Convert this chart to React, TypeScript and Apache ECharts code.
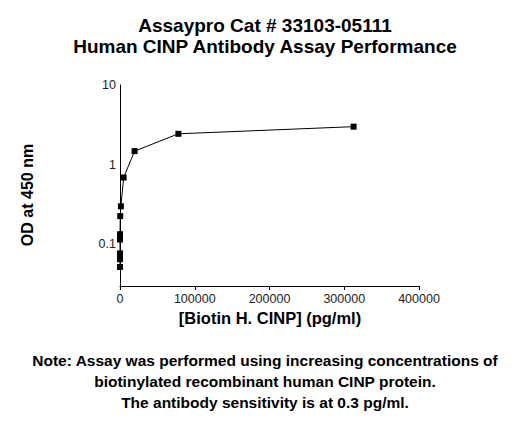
import React, { useEffect, useRef } from "react";
import * as echarts from "echarts";

// Biotin H. CINP standard curve (pg/ml vs OD at 450 nm)
const concentrations = [312500, 78125, 19531, 4883, 1221, 305, 76, 19, 4.8, 1.2, 0.3, 0];
const odValues = [3.0, 2.44, 1.48, 0.69, 0.3, 0.226, 0.134, 0.115, 0.077, 0.07, 0.065, 0.052];

const titleLines = ["Assaypro Cat # 33103-05111", "Human CINP Antibody Assay Performance"];
const noteLines = [
  "Note: Assay was performed using increasing concentrations of",
  "biotinylated recombinant human CINP protein.",
  "The antibody sensitivity is at 0.3 pg/ml.",
];
const xTitle = "[Biotin H. CINP] (pg/ml)";
const yTitle = "OD at 450 nm";

const FONT = "'Liberation Sans', Arial, sans-serif";

export default function App() {
  const ref = useRef<HTMLDivElement>(null);

  useEffect(() => {
    if (!ref.current) return;
    const chart = echarts.init(ref.current, undefined, { renderer: "svg" });
    const points = concentrations.map((c, i) => [c, odValues[i]]);

    chart.setOption({
      animation: false,
      backgroundColor: "#fff",
      textStyle: { fontFamily: FONT },
      grid: { left: 120, right: 111, top: 85, bottom: 139, containLabel: false },
      xAxis: {
        type: "value",
        min: 0,
        max: 400000,
        interval: 100000,
        splitLine: { show: false },
        axisLine: { show: true, onZero: false, lineStyle: { color: "#000", width: 1 } },
        axisTick: { show: true, length: 4, lineStyle: { color: "#000" } },
        axisLabel: {
          color: "#222",
          fontSize: 12.5,
          margin: 6,
          fontFamily: FONT,
          formatter: (v: number) => String(v),
        },
      },
      yAxis: {
        type: "log",
        logBase: 10,
        min: 0.03,
        max: 10,
        splitLine: { show: false },
        minorTick: { show: false },
        axisLine: { show: true, lineStyle: { color: "#000", width: 1 } },
        axisTick: { show: false },
        axisLabel: {
          color: "#222",
          fontSize: 12.5,
          margin: 4,
          fontFamily: FONT,
          showMinLabel: false,
          formatter: (v: number) => {
            const l = Math.log10(v);
            return Math.abs(l - Math.round(l)) < 1e-6 ? String(Number(v.toPrecision(3))) : "";
          },
        },
      },
      series: [
        {
          type: "line",
          data: points,
          symbol: "rect",
          symbolSize: 6,
          itemStyle: { color: "#000" },
          lineStyle: { color: "#000", width: 1 },
        },
      ],
      graphic: [
        ...titleLines.map((t, i) => ({
          type: "text",
          x: 265,
          y: 25 + i * 21,
          style: {
            text: t,
            fill: "#000",
            font: `bold 19px ${FONT}`,
            textAlign: "center",
            textVerticalAlign: "middle",
          },
        })),
        {
          type: "text",
          x: 270,
          y: 318,
          style: {
            text: xTitle,
            fill: "#000",
            font: `bold 16.5px ${FONT}`,
            textAlign: "center",
            textVerticalAlign: "middle",
          },
        },
        {
          type: "text",
          x: 27,
          y: 195,
          rotation: Math.PI / 2,
          style: {
            text: yTitle,
            fill: "#000",
            font: `bold 16px ${FONT}`,
            textAlign: "center",
            textVerticalAlign: "middle",
          },
        },
        ...noteLines.map((t, i) => ({
          type: "text",
          x: 265,
          y: 360 + i * 21,
          style: {
            text: t,
            fill: "#000",
            font: `bold 15.5px ${FONT}`,
            textAlign: "center",
            textVerticalAlign: "middle",
          },
        })),
      ],
    });

    return () => chart.dispose();
  }, []);

  return (
    <div
      ref={ref}
      style={{ position: "absolute", left: 0, top: 0, width: 530, height: 425 }}
    />
  );
}
